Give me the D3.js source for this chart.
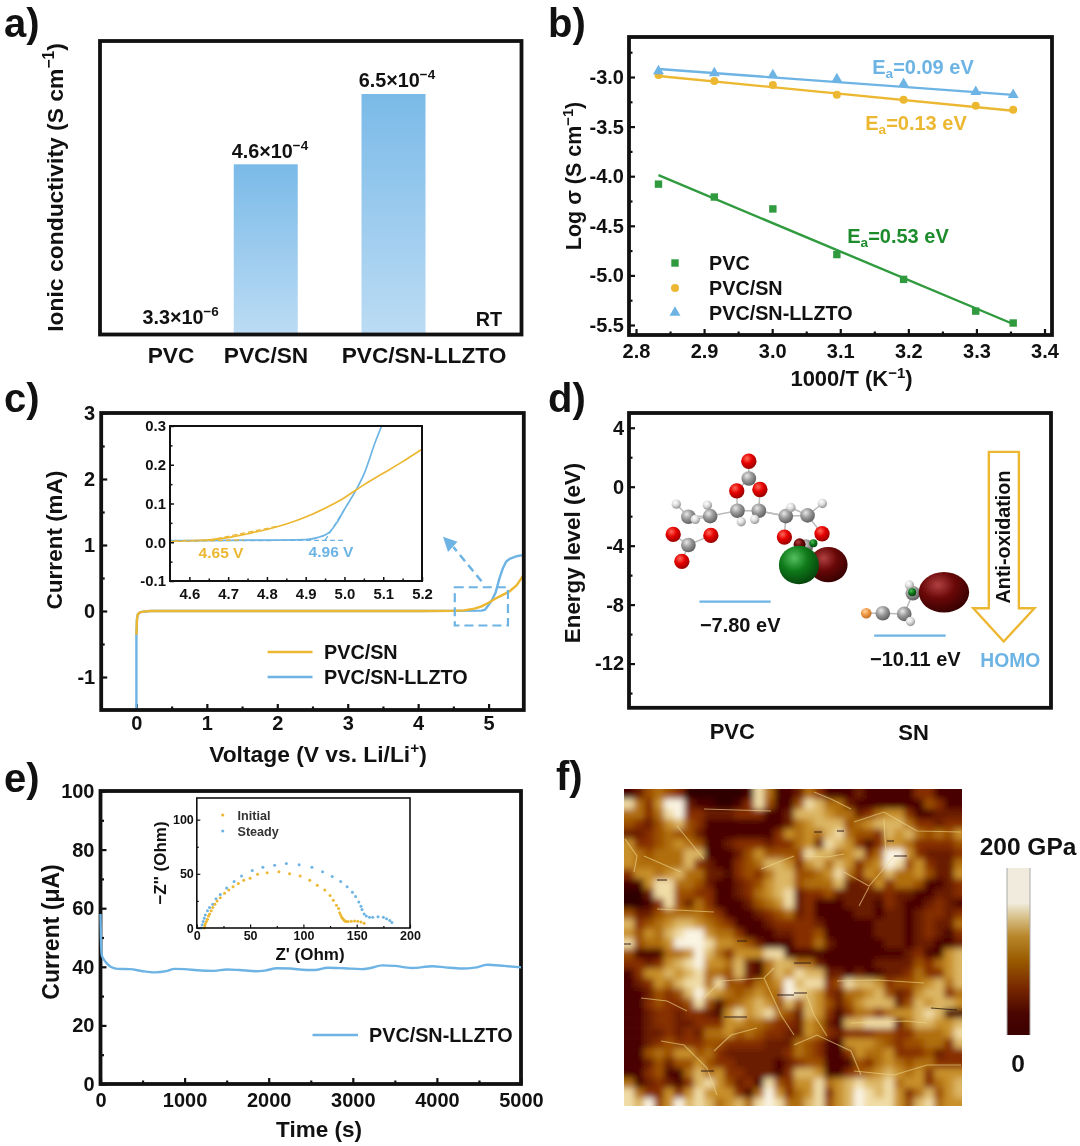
<!DOCTYPE html>
<html><head><meta charset="utf-8">
<script src="https://cdn.jsdelivr.net/npm/d3@7/dist/d3.min.js"></script>
<style>
html,body{margin:0;padding:0;background:#fff}
svg{display:block;filter:blur(.4px)}
text{font-family:"Liberation Sans",Arial,sans-serif;font-weight:bold;fill:#111}
</style></head><body>
<svg id="c" width="1080" height="1146"></svg>
<script>
// ---------- data ----------
const BLUE="#6db4e4", YEL="#ecb731", GREEN="#2f9a3e";
// a
const aCats=["PVC","PVC/SN","PVC/SN-LLZTO"];
const aVals=[0.033,4.6,6.5];
const aLabels=["3.3×10","4.6×10","6.5×10"];
const aExps=["−6","−4","−4"];
// b
const bT=[2.833,2.915,3.001,3.095,3.193,3.299,3.354];
const bPVC=[-4.08,-4.21,-4.33,-4.79,-5.04,-5.36,-5.48];
const bSN=[-2.98,-3.04,-3.08,-3.18,-3.23,-3.29,-3.33];
const bLL=[-2.94,-2.96,-2.98,-3.02,-3.07,-3.15,-3.18];
const bFitEnds=[2.833,3.354];
const bFitPVC=[-3.99,-5.49], bFitSN=[-2.99,-3.34], bFitLL=[-2.92,-3.18];
// c main
const cSNv=[0,0.008,0.02,0.05,0.1,0.2,1,2,3,4,4.5,4.65,4.8,4.9,5.0,5.1,5.2,5.3,5.4,5.5];
const cSNi=[-0.36,-0.12,-0.05,-0.02,-0.01,0,0,0,0,0,0.003,0.01,0.035,0.07,0.125,0.19,0.245,0.3,0.39,0.55];
const cLLv=[0,0,0.008,0.02,0.05,0.1,0.2,1,2,3,4,4.5,4.9,4.95,5.0,5.05,5.1,5.15,5.2,5.25,5.3,5.4,5.5];
const cLLi=[-1.5,-0.36,-0.12,-0.05,-0.02,-0.01,0,0,0,0,0,0.002,0.006,0.02,0.09,0.17,0.28,0.48,0.64,0.75,0.79,0.83,0.85];
// c inset
const iSNv=[4.55,4.6,4.65,4.7,4.75,4.8,4.85,4.9,4.95,5.0,5.03,5.05,5.1,5.15,5.2];
const iSNi=[0.003,0.004,0.006,0.012,0.022,0.033,0.047,0.065,0.088,0.115,0.135,0.148,0.178,0.208,0.24];
const iLLv=[4.55,4.7,4.9,4.93,4.96,4.98,5.0,5.03,5.05,5.08,5.1];
const iLLi=[0.004,0.005,0.007,0.012,0.025,0.05,0.085,0.135,0.175,0.26,0.31];
// d  (atoms in schematic units of the panel)
const atomKind=["O","C","O","O","C","C","H","H","C","C","H","H","H","O","O","C","O","C","C","H","H","O","O","C"];
const atomX=[605,605,570,637,572,634,583,622,493,430,395,485,450,386,495,430,411,712,775,727,818,708,817,770];
const atomY=[213,265,302,298,362,362,395,388,378,380,342,345,388,433,436,465,514,378,376,352,340,441,431,470];
const bondA=[0,1,1,2,3,4,4,5,5,4,8,8,9,8,13,14,15,5,17,18,17,18,21,22];
const bondB=[1,2,3,4,5,6,5,7,17,8,9,11,10,12,15,15,16,17,18,19,19,20,17,18];
const snKind=["N","C","C","H","C","H"];
const snX=[945,993,1055,1073,1080,1070];
const snY=[670,670,672,695,610,585];
const snBondA=[0,1,2,2];
const snBondB=[1,2,3,4];
const levels=[-7.80,-10.11];
const levelLabels=["−7.80 eV","−10.11 eV"];
const dCats=["PVC","SN"];
// e
const eT=[0,5,15,40,80,120,200,350,500,650,780,880,1000,1150,1350,1500,1650,1850,1950,2100,2250,2450,2550,2700,2900,3100,3200,3350,3500,3700,3950,4100,4300,4450,4600,4800,5000];
const eI=[58,50,44,42.5,41,40,39.3,39.2,38.5,38.1,38.5,39.3,39.2,38.8,38.6,39.1,38.9,38.5,38.7,39.5,39.4,38.9,38.9,39.7,39.5,39.2,39.5,40.5,40.3,39.6,40.2,39.8,39.4,39.7,40.7,40.3,39.8];
// e inset
const zIx=[7,7.5,8,9,10,11,12,13.5,15,17,19,22,26,30,34,39,44,50,57,66,77,87,97,106,113,120,125,128,131,133,134,135,136,137,138,139,140,142,145,148,151,154,157];
const zIy=[0,2,4,6,8,11,13,16,19,22,25,28,32,35,38,41,44,46,49.7,51,52,50,48,44,39.5,35,30,25.6,21,18,14,12,10,8.5,7.5,6.5,6,6,6.3,6.5,6.2,5.5,4.5];
const zSx=[4,5,6,7,8,10,12,15,18,22,28,35,42,52,62,73,84,96,108,118,127,135,141,146,149,152,154,155,157,159,162,165,170,175,178,181,183];
const zSy=[0,3,6,9,12,16,19,22,27,31,37,43,48,53,56,58,59.5,58.5,56,52,47.5,43,38,33,29,24,20,17,13,11,10,10,10.5,10,8.5,7,5];
// f  modulus map, rows of estimated levels 0 (dark) .. 9 (bright)
const afmRows=[
"12454300000018511"+"25311121111133111",
"85369921100138411"+"48755211111114311",
"55358933222333112"+"77765523566311222",
"43246743111111112"+"56777456777533233",
"22345442111111136"+"56578544376754546",
"63345654112333233"+"56287631366533334",
"65455577111246444"+"48775673599632223",
"65555573211345776"+"36757635698463225",
"36656755221343577"+"44568536575564226",
"11688554211234677"+"45557223635541123",
"00288443311235678"+"23342222232211223",
"00138425311124568"+"23111222132112321",
"42245555431112345"+"23111122122123323",
"73456776543111233"+"33211111222123225",
"64657899655311122"+"33411111222123213",
"84556999866542111"+"33521111122122112",
"41115569753666881"+"11111111111231167",
"33236789665721577"+"55211111222243567",
"13667678554721576"+"87722121122353367",
"12365788584435569"+"78834877634456757",
"11243479765456559"+"87632556742367735",
"11343348414567647"+"47642467772476776",
"11233233216867854"+"27631355356678711",
"11233223336655433"+"26521778882577667",
"11223232556454332"+"26532333443355568",
"11234333443333222"+"54311666543445537",
"11454664532222223"+"54311365563334233",
"11242446433222212"+"34411143565455333",
"11341157563322213"+"77611345676563666",
"51232137864231843"+"66856787785663567",
"85336368666315963"+"56836798786357467",
"87946978756758985"+"57846798886478566"].map(s=>s.split("").map(Number));
const afmLevels=[0,1,2,3,4,5,6,7,8,9];
const afmColors=["#2e0000","#4a0400","#6a1c00","#862f00","#9c5000","#b06e10","#c8902c","#dcb664","#f0dca6","#faf4e4"];
// grain boundaries and scan dropouts, in micrograph units
const afmSeams=[
[[220,83],[245,97],[257,83],[270,67]],[[245,98],[235,117]],[[180,67],[203,68],[220,65]],
[[190,3],[207,10],[227,20]],[[230,33],[260,23],[293,42],[337,43]],[[260,30],[262,67]],
[[17,209],[43,212],[63,222]],[[80,209],[97,192],[140,189],[150,179]],[[140,189],[157,226],[170,246]],
[[37,252],[60,256],[83,279],[93,306]],[[90,262],[107,246],[133,239]],
[[170,256],[193,246],[227,262],[237,286]],[[203,247],[190,226],[180,199]],
[[230,282],[270,286],[303,276],[337,276]],[[213,192],[253,191],[300,194]],[[227,234],[283,232],[303,234]],
[[1,50],[13,67],[10,83]],[[20,67],[43,77],[57,83]],[[80,20],[147,22]],[[53,37],[80,70]],[[137,80],[170,67]],[[33,120],[90,123]]
];
const afmDashes=[
[[170,174],[187,174]],[[170,204],[183,204]],[[307,219],[333,221]],[[100,228],[123,228]],[[153,206],[170,206]],
[[77,282],[90,282]],[[270,67],[283,67]],[[263,52],[270,52]],[[190,43],[198,43]],[[213,42],[220,42]],
[[33,91],[43,91]],[[113,152],[123,152]],[[0,155],[7,155]]
];
const barStops=[[0,"#3a0000"],[.13,"#4a0500"],[.29,"#7a2a00"],[.45,"#9a5c00"],[.59,"#b8862a"],[.71,"#d9c38e"],[.79,"#f0ebdc"],[1,"#f0ebdc"]];

// ---------- helpers ----------
const svg=d3.select("#c");
const defs=svg.append("defs");
function rich(g,x,y,parts,o={}){
  const fs=o.fs||20;
  const t=g.append("text").attr("font-size",fs).attr("text-anchor",o.anchor||"middle")
    .attr("fill",o.fill||"#111").style("fill",o.fill||"#111");
  if(o.rot!=null) t.attr("transform",`translate(${x},${y}) rotate(${o.rot})`);
  else t.attr("x",x).attr("y",y);
  let shift=0;
  parts.forEach(p=>{
    const [s,k]=Array.isArray(p)?p:[p,null];
    const target=k==="sup"?-fs*.38:k==="sub"?fs*.22:0;
    const ts=t.append("tspan").text(s).attr("dy",target-shift);
    if(k) ts.attr("font-size",fs*.68);
    shift=target;
  });
  return t;
}
function panel(o){
  const g=svg.append("g");
  const x=o.x, y=o.y, [x0,x1]=x.range(), [y1,y0]=y.range();
  const fs=o.fs||20, lw=o.lw||2.2;
  const ax=[];
  if(o.xTicks){
    const a=d3.axisBottom(x).tickValues(o.xTicks).tickSizeInner(-(o.maj||6)).tickSizeOuter(0).tickPadding(o.xPad??9).tickFormat(o.xFmt||d3.format(""));
    ax.push(g.append("g").attr("transform",`translate(0,${y1})`).call(a));
    if(o.xMinor) ax.push(g.append("g").attr("transform",`translate(0,${y1})`).call(d3.axisBottom(x).tickValues(o.xMinor).tickSizeInner(-(o.min||3.5)).tickSizeOuter(0).tickFormat("")));
  }
  if(o.yTicks){
    const a=d3.axisLeft(y).tickValues(o.yTicks).tickSizeInner(-(o.maj||6)).tickSizeOuter(0).tickPadding(o.yPad??5).tickFormat(o.yFmt||d3.format(""));
    ax.push(g.append("g").attr("transform",`translate(${x0},0)`).call(a));
    if(o.yMinor) ax.push(g.append("g").attr("transform",`translate(${x0},0)`).call(d3.axisLeft(y).tickValues(o.yMinor).tickSizeInner(-(o.min||3.5)).tickSizeOuter(0).tickFormat("")));
  }
  ax.forEach(s=>{
    s.select(".domain").remove();
    s.attr("font-family",null).attr("font-size",null);
    s.selectAll("text").attr("font-size",fs).style("fill","#111");
    s.selectAll("line").attr("stroke","#111").attr("stroke-width",lw);
  });
  g.frame=()=>g.append("rect").attr("x",x0).attr("y",y0).attr("width",x1-x0).attr("height",y1-y0)
    .attr("fill","none").attr("stroke",o.fc||"#111").attr("stroke-width",o.fw||3.8);
  return g;
}
const line=(x,y)=>d3.line().x(d=>x(d[0])).y(d=>y(d[1]));
const smooth=(x,y)=>d3.line().x(d=>x(d[0])).y(d=>y(d[1])).curve(d3.curveMonotoneX);
const zip=(a,b)=>a.map((v,i)=>[v,b[i]]);
function letter(s,x,y){svg.append("text").attr("x",x).attr("y",y).attr("font-size",40).text(s);}
letter("a)",4,37);letter("b)",548,37);letter("c)",4,412);letter("d)",548,412);letter("e)",4,792);letter("f)",556,790);

// ---------- a ----------
{
  const xp=d3.scaleLinear().domain([0,2]).range([138,393.5]);
  const y=d3.scaleLinear().domain([0,6.5]).range([334.5,94]);
  const p=panel({x:d3.scaleLinear().range([100,521.5]),y:d3.scaleLinear().range([334.5,41])});
  const grad=defs.append("linearGradient").attr("id","barg").attr("x1",0).attr("x2",0).attr("y1",0).attr("y2",1);
  grad.append("stop").attr("offset",0).attr("stop-color","#7abae8");
  grad.append("stop").attr("offset",1).attr("stop-color","#bcdcf4");
  p.selectAll(".bar").data(aVals).join("rect").attr("x",(d,i)=>xp(i)-32).attr("width",64)
    .attr("y",d=>y(d)).attr("height",d=>y(0)-y(d)).attr("fill","url(#barg)");
  p.frame();
  const lblX=[180.6,270,397], lblY=[324,158,87], catX=[171,266,424];
  aLabels.forEach((s,i)=>rich(p,lblX[i],lblY[i],[s,[aExps[i],"sup"]],{fs:19.8}));
  aCats.forEach((s,i)=>rich(p,catX[i],363,[s],{fs:22.7}));
  rich(p,489,326,["RT"],{fs:19.8});
  rich(p,63,187.5,["Ionic conductivity (S cm",["−1","sup"],")"],{fs:22.9,rot:-90});
}
// ---------- b ----------
{
  const x=d3.scaleLinear().domain([2.7897,3.411]).range([629,1052]);
  const y=d3.scaleLinear().domain([-3,-5.5]).range([77,325]);
  const yy=d3.scaleLinear().domain([y.invert(335),y.invert(37)]).range([335,37]);
  const p=panel({x,y:yy,xTicks:[2.8,2.9,3,3.1,3.2,3.3,3.4],xMinor:[2.85,2.95,3.05,3.15,3.25,3.35],
    yTicks:[-3,-3.5,-4,-4.5,-5,-5.5],yMinor:[-2.75,-3.25,-3.75,-4.25,-4.75,-5.25],
    xFmt:d3.format(".1f"),yFmt:d=>d3.format(".1f")(d).replace("−","-")});
  const L=line(x,yy);
  [[bFitPVC,GREEN],[bFitSN,YEL],[bFitLL,BLUE]].forEach(([f,c])=>
    p.append("path").attr("d",L(zip(bFitEnds,f))).attr("fill","none").attr("stroke",c).attr("stroke-width",2.4));
  p.selectAll(".s").data(zip(bT,bPVC)).join("rect").attr("x",d=>x(d[0])-3.7).attr("y",d=>yy(d[1])-3.7).attr("width",7.4).attr("height",7.4).attr("fill",GREEN);
  p.selectAll(".c").data(zip(bT,bSN)).join("circle").attr("cx",d=>x(d[0])).attr("cy",d=>yy(d[1])).attr("r",4).attr("fill",YEL);
  const tri=d3.symbol().type(d3.symbolTriangle).size(52);
  p.selectAll(".t").data(zip(bT,bLL)).join("path").attr("d",tri).attr("transform",d=>`translate(${x(d[0])},${yy(d[1])})`).attr("fill",BLUE);
  p.frame();
  rich(p,923,74,["E",["a","sub"],"=0.09 eV"],{fs:20,fill:BLUE});
  rich(p,916,130,["E",["a","sub"],"=0.13 eV"],{fs:20,fill:YEL});
  rich(p,898,243,["E",["a","sub"],"=0.53 eV"],{fs:20,fill:"#1e8c2c"});
  p.append("rect").attr("x",671.3).attr("y",259.3).attr("width",7.4).attr("height",7.4).attr("fill",GREEN);
  p.append("circle").attr("cx",675).attr("cy",288).attr("r",4).attr("fill",YEL);
  p.append("path").attr("d",tri).attr("transform","translate(675,312.5)").attr("fill",BLUE);
  ["PVC","PVC/SN","PVC/SN-LLZTO"].forEach((s,i)=>rich(p,709,[270,295,320][i],[s],{fs:19.8,anchor:"start"}));
  rich(p,851.5,386,["1000/T (K",["−1","sup"],")"],{fs:22});
  rich(p,581,176,["Log σ (S cm",["−1","sup"],")"],{fs:21.5,rot:-90});
}
// ---------- c ----------
{
  const x=d3.scaleLinear().domain([-.5,5.5]).range([101.2,523.8]);
  const y=d3.scaleLinear().domain([-1.5,3]).range([710,413]);
  const p=panel({x,y,xTicks:[0,1,2,3,4,5],xMinor:[.5,1.5,2.5,3.5,4.5],yTicks:[-1,0,1,2,3],yMinor:[-.5,.5,1.5,2.5],
    yFmt:d=>String(d),yPad:6,xPad:6});
  const L=line(x,y);
  p.append("path").attr("d",L(zip(cLLv,cLLi))).attr("fill","none").attr("stroke",BLUE).attr("stroke-width",2.4);
  p.append("path").attr("d",L(zip(cSNv,cSNi))).attr("fill","none").attr("stroke",YEL).attr("stroke-width",2.4);
  p.append("rect").attr("x",x(4.52)).attr("y",y(.36)).attr("width",x(5.275)-x(4.52)).attr("height",y(-.22)-y(.36))
    .attr("fill","none").attr("stroke",BLUE).attr("stroke-width",2.2).attr("stroke-dasharray","9 5");
  // arrow
  p.append("path").attr("d",L([[4.9,.45],[4.5,.97]])).attr("stroke",BLUE).attr("stroke-width",2.5).attr("stroke-dasharray","8 5").attr("fill","none");
  p.append("path").attr("d",L([[4.353,1.126],[4.559,1.049],[4.424,.893]])+"Z").attr("fill",BLUE);
  p.frame();
  [["PVC/SN",YEL,652],["PVC/SN-LLZTO",BLUE,677]].forEach(([s,c,yy])=>{
    p.append("line").attr("x1",267.6).attr("x2",312.5).attr("y1",yy).attr("y2",yy).attr("stroke",c).attr("stroke-width",2.4);
    rich(p,324,yy+7,[s],{fs:19.8,anchor:"start"});
  });
  rich(p,318,762,["Voltage (V vs. Li/Li",["+","sup"],")"],{fs:22.8});
  rich(p,62,540,["Current (mA)"],{fs:22.5,rot:-90});
  // inset
  const ix=d3.scaleLinear().domain([4.55,5.2]).range([170,422]);
  const iy=d3.scaleLinear().domain([-.1,.3]).range([581,426]);
  const q=panel({x:ix,y:iy,xTicks:[4.6,4.7,4.8,4.9,5,5.1,5.2],xMinor:[4.65,4.75,4.85,4.95,5.05,5.15],yTicks:[-.1,0,.1,.2,.3],yMinor:[-.05,.05,.15,.25],
    xFmt:d3.format(".1f"),yFmt:d=>d3.format(".1f")(d).replace("−","-"),fs:14.9,maj:4,min:2.5,lw:1.5,fw:2,xPad:7,yPad:4});
  defs.append("clipPath").attr("id","ic").append("rect").attr("x",170).attr("y",426).attr("width",252).attr("height",155);
  const IL=line(ix,iy), IS=smooth(ix,iy), gc=q.append("g").attr("clip-path","url(#ic)");
  gc.append("path").attr("d",IS(zip(iLLv,iLLi))).attr("fill","none").attr("stroke",BLUE).attr("stroke-width",1.7);
  gc.append("path").attr("d",IS(zip(iSNv,iSNi))).attr("fill","none").attr("stroke",YEL).attr("stroke-width",1.7);
  const dash=(a,c)=>gc.append("path").attr("d",IL(a)).attr("fill","none").attr("stroke",c).attr("stroke-width",1.3).attr("stroke-dasharray","5 3");
  dash([[4.55,.004],[5.0,.005]],BLUE); dash([[4.95,.005],[5.0,.085]],BLUE);
  dash([[4.55,.002],[4.74,.006]],YEL); dash([[4.65,.005],[4.83,.042]],YEL);
  q.frame();
  rich(q,221,558,["4.65 V"],{fs:15.5,fill:YEL});
  rich(q,331,557,["4.96 V"],{fs:15.5,fill:BLUE});
}
// ---------- d ----------
{
  const x=d3.scaleLinear().domain([258,1480]).range([629,1051]);
  const y=d3.scaleLinear().domain([-15,5]).range([707.8,413]);
  const my=d3.scaleLinear().domain([68,955]).range([413,708]);
  const p=panel({x,y,yTicks:[4,0,-4,-8,-12],yMinor:[2,-2,-6,-10,-14],yFmt:d=>String(d)});
  const palette={O:["#ff6a5a","#e50000","#8c0000",23],C:["#e8e8e8","#999","#555",22],H:["#ffffff","#ddd","#888",14],N:["#ffd2a0","#f09a45","#b86a20",16],
    DR:["#b04040","#6a0808","#300000",18],GR:["#55c060","#0f7a1a","#043d0a",12]};
  Object.entries(palette).forEach(([k,c])=>{
    const g=defs.append("radialGradient").attr("id","sph"+k).attr("cx",.38).attr("cy",.32).attr("r",.75);
    g.append("stop").attr("offset",0).attr("stop-color",c[0]);
    g.append("stop").attr("offset",.45).attr("stop-color",c[1]);
    g.append("stop").attr("offset",1).attr("stop-color",c[2]);
  });
  const mol=p.append("g");
  const bonds=(A,B,X,Y)=>A.forEach((a,i)=>mol.append("line").attr("x1",x(X[a])).attr("y1",my(Y[a])).attr("x2",x(X[B[i]])).attr("y2",my(Y[B[i]])).attr("stroke","#bbb").attr("stroke-width",1.5));
  bonds(bondA,bondB,atomX,atomY);
  bonds(snBondA,snBondB,snX,snY);
  const atom=(k,X,Y)=>mol.append("circle").attr("cx",x(X)).attr("cy",my(Y)).attr("r",palette[k][3]/3).attr("fill",`url(#sph${k})`);
  const lobe=(k,X,Y,rx,ry)=>mol.append("ellipse").attr("cx",x(X)).attr("cy",my(Y)).attr("rx",rx*.3453).attr("ry",ry/3).attr("fill",`url(#sph${k})`);
  atomKind.forEach((k,i)=>atom(k,atomX[i],atomY[i]));
  atom("DR",752,463); atom("GR",792,460);
  lobe("DR",835,524,56,53); lobe("GR",750,525,58,58);
  snKind.forEach((k,i)=>atom(k,snX[i],snY[i]));
  atom("GR",1078,607);
  lobe("DR",1170,607,73,61);
  const lx=[[462,668],[968,1175]], tx=[580,1087];
  levels.forEach((v,i)=>{
    p.append("line").attr("x1",x(lx[i][0])).attr("x2",x(lx[i][1])).attr("y1",y(v)).attr("y2",y(v)).attr("stroke",BLUE).attr("stroke-width",2.2);
    rich(p,x(tx[i]),y(v)+30,[levelLabels[i]],{fs:20});
  });
  const ar=[[1300,185],[1387,185],[1387,655],[1432,655],[1343,755],[1255,655],[1300,655]];
  p.append("path").attr("d",d3.line().x(d=>x(d[0])).y(d=>my(d[1])).curve(d3.curveLinearClosed)(ar)).attr("fill","none").attr("stroke",YEL).attr("stroke-width",2.4);
  rich(p,x(1362),537,["Anti-oxidation"],{fs:19.8,rot:-90});
  rich(p,x(1362),667,["HOMO"],{fs:19.3,fill:BLUE});
  p.frame();
  rich(p,580,553,["Energy level (eV)"],{fs:22.4,rot:-90});
  rich(p,x(557),739,[dCats[0]],{fs:22});
  rich(p,x(1082),740,[dCats[1]],{fs:22});
}
// ---------- e ----------
{
  const x=d3.scaleLinear().domain([0,5000]).range([100.5,521]);
  const y=d3.scaleLinear().domain([0,100]).range([1084,791]);
  const p=panel({x,y,xTicks:[0,1000,2000,3000,4000,5000],xMinor:[500,1500,2500,3500,4500],yTicks:[0,20,40,60,80,100],yMinor:[10,30,50,70,90],xPad:9,yPad:6});
  p.frame();
  p.append("path").attr("d",smooth(x,y)(zip(eT,eI))).attr("fill","none").attr("stroke",BLUE).attr("stroke-width",2.4);
  p.append("line").attr("x1",312.5).attr("x2",358).attr("y1",1035).attr("y2",1035).attr("stroke",BLUE).attr("stroke-width",2.4);
  rich(p,369,1042,["PVC/SN-LLZTO"],{fs:19.8,anchor:"start"});
  rich(p,319,1137,["Time (s)"],{fs:22.5});
  rich(p,59,932,["Current (μA)"],{fs:23,rot:-90});
  const ix=d3.scaleLinear().domain([0,200]).range([196.8,410]);
  const iy=d3.scaleLinear().domain([0,120]).range([928,798]);
  const q=panel({x:ix,y:iy,xTicks:[0,50,100,150,200],xMinor:[25,75,125,175],yTicks:[0,50,100],yMinor:[25,75],fs:12.5,maj:3.5,min:2,lw:1.2,fw:1.6,xPad:3,yPad:3});
  const dots=(a,b,c)=>q.append("g").selectAll("circle").data(zip(a,b)).join("circle").attr("cx",d=>ix(d[0])).attr("cy",d=>iy(d[1])).attr("r",1.5).attr("fill",c);
  dots(zSx,zSy,BLUE); dots(zIx,zIy,YEL);
  q.frame();
  q.append("circle").attr("cx",222.7).attr("cy",815).attr("r",1.6).attr("fill",YEL);
  q.append("circle").attr("cx",222.7).attr("cy",831).attr("r",1.6).attr("fill",BLUE);
  rich(q,237.5,820,["Initial"],{fs:12.6,anchor:"start",fill:"#333"});
  rich(q,237.5,836,["Steady"],{fs:12.6,anchor:"start",fill:"#333"});
  rich(q,310,960,["Z' (Ohm)"],{fs:17});
  rich(q,165.7,863,["−Z'' (Ohm)"],{fs:17,rot:-90});
}
// ---------- f ----------
{
  const x=d3.scaleLinear().domain([0,34]).range([624,964]);
  const y=d3.scaleLinear().domain([0,32]).range([789,1108]);
  const ux=d3.scaleLinear().domain([0,338]).range([624,962]);
  const uy=d3.scaleLinear().domain([0,317]).range([789,1106]);
  const color=d3.scaleLinear().domain(afmLevels).range(afmColors);
  const f=defs.append("filter").attr("id","afmb").attr("x",600).attr("y",765).attr("width",390).attr("height",370).attr("filterUnits","userSpaceOnUse");
  f.append("feGaussianBlur").attr("stdDeviation",3.4);
  const f2=defs.append("filter").attr("id","afms");f2.append("feGaussianBlur").attr("stdDeviation",.4);
  defs.append("clipPath").attr("id","afmc").append("rect").attr("x",624).attr("y",789).attr("width",338).attr("height",317);
  const root=svg.append("g").attr("clip-path","url(#afmc)");
  const cells=root.append("g").attr("filter","url(#afmb)");
  afmRows.forEach((r,j)=>r.forEach((v,i)=>{
    const xa=x(i)-(i===0?24:0), xb=x(i+1)+(i===33?24:.5), ya=y(j)-(j===0?24:0), yb=y(j+1)+(j===31?24:.5);
    cells.append("rect").attr("x",xa).attr("y",ya).attr("width",xb-xa).attr("height",yb-ya).attr("fill",color(v));
  }));
  const L=line(ux,uy);
  const ov=root.append("g").attr("filter","url(#afms)");
  afmSeams.forEach(s=>ov.append("path").attr("d",L(s)).attr("fill","none").attr("stroke","#f0d890").attr("stroke-width",1.1).attr("opacity",.6));
  afmDashes.forEach(s=>ov.append("path").attr("d",L(s)).attr("fill","none").attr("stroke","#2a1a10").attr("stroke-width",1.2).attr("opacity",.8));
  // colour bar
  const cg=defs.append("linearGradient").attr("id","cbar").attr("x1",0).attr("x2",0).attr("y1",1).attr("y2",0);
  barStops.forEach(([t,c])=>cg.append("stop").attr("offset",t).attr("stop-color",c));
  const cb=d3.scaleLinear().domain([0,200]).range([1035,868]);
  svg.append("rect").attr("x",1007).attr("y",cb(200)).attr("width",23).attr("height",cb(0)-cb(200)).attr("fill","url(#cbar)");
  svg.append("line").attr("x1",1007).attr("x2",1007).attr("y1",cb(200)).attr("y2",cb(0)).attr("stroke","#aaa").attr("stroke-width",1);
  svg.append("line").attr("x1",1030).attr("x2",1030).attr("y1",cb(200)).attr("y2",cb(0)).attr("stroke","#aaa").attr("stroke-width",1);
  rich(svg,1028,855,["200 GPa"],{fs:24.5});
  rich(svg,1018,1072,["0"],{fs:24.5});
}
</script>
</body></html>
